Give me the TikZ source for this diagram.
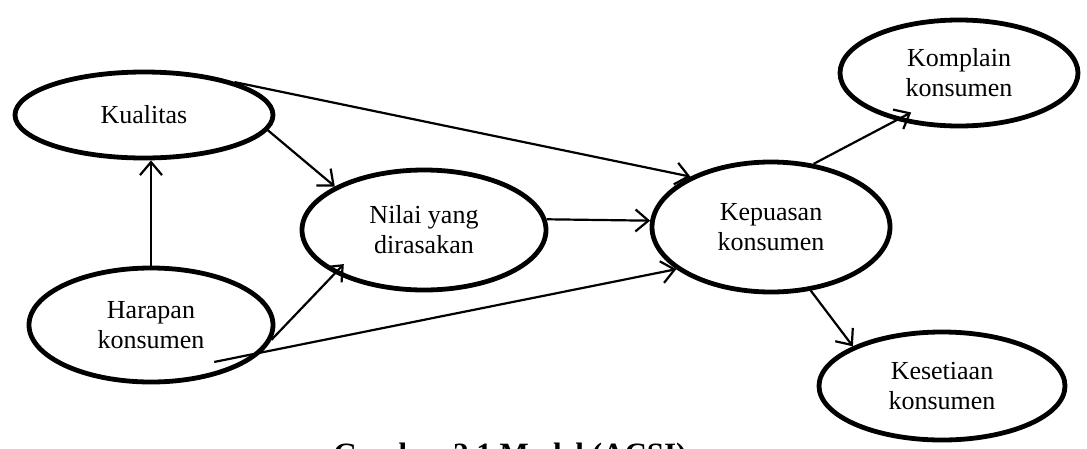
\documentclass[tikz,border=0pt]{standalone}
\usepackage{fontspec}
\setmainfont{Liberation Serif}
\usetikzlibrary{shapes.geometric,arrows.meta}
\begin{document}
\begin{tikzpicture}[x=1pt,y=-1pt,
  konsep/.style={draw, ellipse, line width=4.8pt, inner sep=0pt, align=center,
    font=\fontsize{26}{30}\selectfont},
  panah/.style={line width=2.2pt, -{Straight Barb[length=13pt,width=22pt]}}]
\useasboundingbox (0,0) rectangle (1087,448);
\node[konsep, minimum width=258pt, minimum height=86pt] (kual) at (144,115) {Kualitas};
\node[konsep, minimum width=244pt, minimum height=114pt] (harap) at (151,325) {Harapan\\konsumen};
\node[konsep, minimum width=244pt, minimum height=120pt] (nilai) at (424,230) {Nilai yang\\dirasakan};
\node[konsep, minimum width=238pt, minimum height=130pt] (kep) at (771,227) {Kepuasan\\konsumen};
\node[konsep, minimum width=238pt, minimum height=106pt] (comp) at (959,73) {Komplain\\konsumen};
\node[konsep, minimum width=246pt, minimum height=108pt] (kes) at (942,386) {Kesetiaan\\konsumen};
\draw[panah] (harap.north) -- (harap.north |- kual.south);
\draw[panah] (kual.-7) -- (nilai.154);
\draw[panah] (kual.20) -- (kep.148);
\draw[panah] (nilai.5) -- (kep.177);
\draw[panah, shorten >=-13pt] (harap.-7) -- (nilai.206);
\draw[panah, shorten <=-48pt] (harap.-14.5) -- (kep.204);
\draw[panah, shorten >=-17pt] (kep.56) -- (comp.217);
\draw[panah] (kep.-58) -- (kes.156);
\node[anchor=base, font=\fontsize{31}{35}\selectfont\bfseries] (cap) at (510,464) {Gambar 2.1 Model (ACSI)};
\end{tikzpicture}
\end{document}
